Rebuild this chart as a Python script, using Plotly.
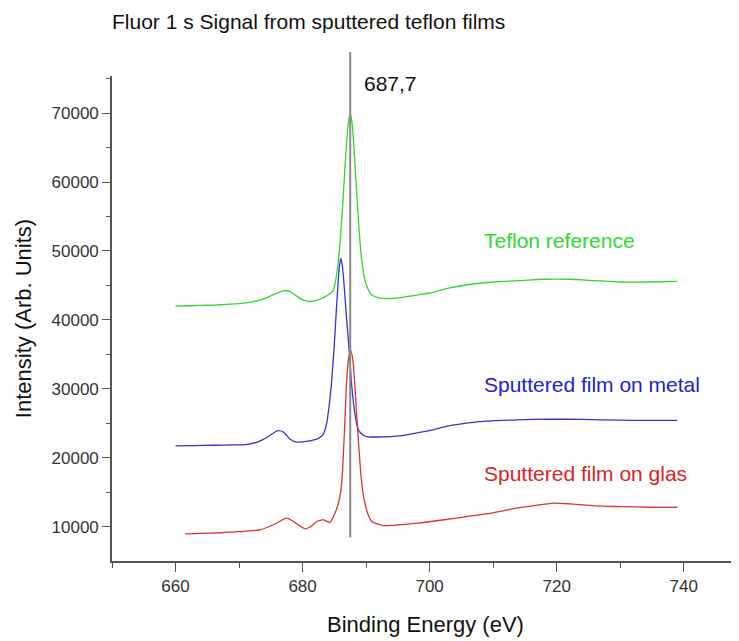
import plotly.graph_objects as go

# ---- data ----
teflon_x = [660, 662, 664, 666, 668, 670, 672, 674, 675.5, 677, 678, 679, 680, 681, 682, 683, 684,
            684.8, 685.4, 685.7, 686, 686.3, 686.6, 686.9, 687.2, 687.5, 687.8, 688.1, 688.4, 688.7,
            689.0, 689.3, 689.8, 690.4, 690.9, 692,
            694, 696, 698, 700, 703, 706, 710, 714, 718, 722, 726, 730, 734, 739]
teflon_y = [42000, 42050, 42100, 42150, 42250, 42350, 42600, 43100, 43700, 44200, 44150, 43500,
            42900, 42700, 42800, 43100, 43600, 44200, 46800, 49200, 52400, 56400, 61000, 65300,
            68600, 69900, 68500, 64800, 60200, 55800, 51800, 48800, 45800, 44300, 43600, 43200,
            43100, 43300, 43600, 43900, 44600, 45100,
            45500, 45700, 45900, 45900, 45700, 45500, 45500, 45600]

metal_x = [660, 663, 666, 669, 671, 673, 674.5, 676, 677, 678, 679, 680, 681.5, 682.5, 683.2, 683.8,
           684.3, 684.6, 685.0, 685.3, 685.6, 685.8, 686, 686.2, 686.5, 686.9, 687.3, 687.7, 688.3,
           688.8, 689.5, 690.1, 692,
           695.3, 698, 700.5, 703, 705.8, 709, 713.7, 719, 724, 730, 735, 739]
metal_y = [21700, 21750, 21800, 21850, 21900, 22300, 23000, 23900, 23700, 22700, 22250, 22300,
           22500, 22800, 23300, 25000, 28500, 31300, 36500, 41200, 45500, 47800, 48900, 48200,
           45500, 40500, 36000, 30800, 26000, 24000, 23300, 23070, 23000, 23170, 23600, 24040,
           24600, 25000, 25300, 25490, 25590, 25550, 25450, 25400, 25400]

glass_x = [661.5, 664, 667, 670, 673.3, 675.5, 677.5, 678.8, 680.4, 681.3, 682.2, 683.3, 684.3,
           685.1, 685.8, 686.2, 686.6, 686.9, 687.2, 687.6, 687.9, 688.2, 688.5, 688.9, 689.2,
           689.6, 690.3, 690.9, 692.7, 695, 698,
           702, 705.8, 710, 713.7, 717, 719.5, 722, 726, 730, 735, 739]
glass_y = [8940, 9000, 9100, 9250, 9520, 10300, 11220, 10600, 9670, 10000, 10730, 10970, 10580,
           11940, 14000, 16780, 24000, 30500, 34200, 35500, 34300, 31000, 26500, 21000, 17300,
           14350, 11800, 10730, 10150, 10250, 10490,
           10950, 11450, 12000, 12670, 13100, 13400, 13300, 13000, 12900, 12800, 12800]

series_names = ["Teflon reference", "Sputtered film on metal", "Sputtered film on glas"]
peak_position = 687.5
peak_label = "687,7"
peak_line_y = [8400, 78900]

x_ticks = [660, 680, 700, 720, 740]
y_ticks = [10000, 20000, 30000, 40000, 50000, 60000, 70000]
x_range = [650, 748.7]
y_range = [5000, 75400]

FONT = "Liberation Sans, Arial, sans-serif"
AX = "#555555"
W, H = 731, 633  # page body adds an 8px margin

fig = go.Figure()
for xs, ys, col in [(teflon_x, teflon_y, "#33d433"),
                    (metal_x, metal_y, "#3535c8"),
                    (glass_x, glass_y, "#d83535")]:
    fig.add_trace(go.Scatter(x=xs, y=ys, mode="lines",
                             line=dict(color=col, width=1.3, shape="spline", smoothing=0.6),
                             showlegend=False, hoverinfo="skip"))

to_paper = lambda v: (v - y_range[0]) / (y_range[1] - y_range[0])
fig.add_shape(type="line", xref="x", yref="paper", x0=peak_position, x1=peak_position,
              y0=to_paper(peak_line_y[0]), y1=to_paper(peak_line_y[1]),
              line=dict(color="#8a8a8a", width=2), layer="above")

fig.add_annotation(x=689.4, y=74300, text=peak_label, showarrow=False, xanchor="left",
                   yanchor="middle", font=dict(family=FONT, size=21, color="#111111"))
label_cfg = [(51500, "#2fd82f"), (30570, "#2222cc"), (17750, "#dd2222")]
for name, (ly, col) in zip(series_names, label_cfg):
    fig.add_annotation(x=708.3, y=ly, text=name, showarrow=False, xanchor="left",
                       yanchor="middle", font=dict(family=FONT, size=21, color=col))

fig.update_layout(
    width=W, height=H,
    margin=dict(l=104, r=0, t=68, b=80),
    paper_bgcolor="white", plot_bgcolor="white",
    title=dict(text="Fluor 1 s Signal from sputtered teflon films", x=104 / W, xref="container",
               xanchor="left", y=1 - 14 / H, yref="container", yanchor="middle",
               font=dict(family=FONT, size=21, color="#111111")),
    font=dict(family=FONT),
)
fig.update_xaxes(range=x_range, tickvals=x_ticks, showgrid=False, zeroline=False, automargin=False,
                 showline=True, linecolor=AX, linewidth=1.6, ticks="outside", ticklen=9,
                 tickcolor=AX, tickwidth=1.3, tickfont=dict(size=17, color="#333333"),
                 minor=dict(tickvals=[650, 670, 690, 710, 730], ticks="outside", ticklen=5,
                            tickcolor=AX, tickwidth=1.3),
                 title=dict(text="Binding Energy (eV)", font=dict(size=22, color="#111111"),
                            standoff=21))
fig.update_yaxes(range=y_range, tickvals=y_ticks, tickformat="d", showgrid=False, zeroline=False,
                 automargin=False,
                 showline=True, linecolor=AX, linewidth=1.6, ticks="outside", ticklen=8,
                 tickcolor=AX, tickwidth=1.3, tickfont=dict(size=17, color="#333333"),
                 minor=dict(tickvals=[15000, 25000, 35000, 45000, 55000, 65000, 75000],
                            ticks="outside", ticklen=4, tickcolor=AX, tickwidth=1.3),
                 title=dict(text="Intensity (Arb. Units)", font=dict(size=22, color="#111111"),
                            standoff=14))

fig.write_html("out.html")
